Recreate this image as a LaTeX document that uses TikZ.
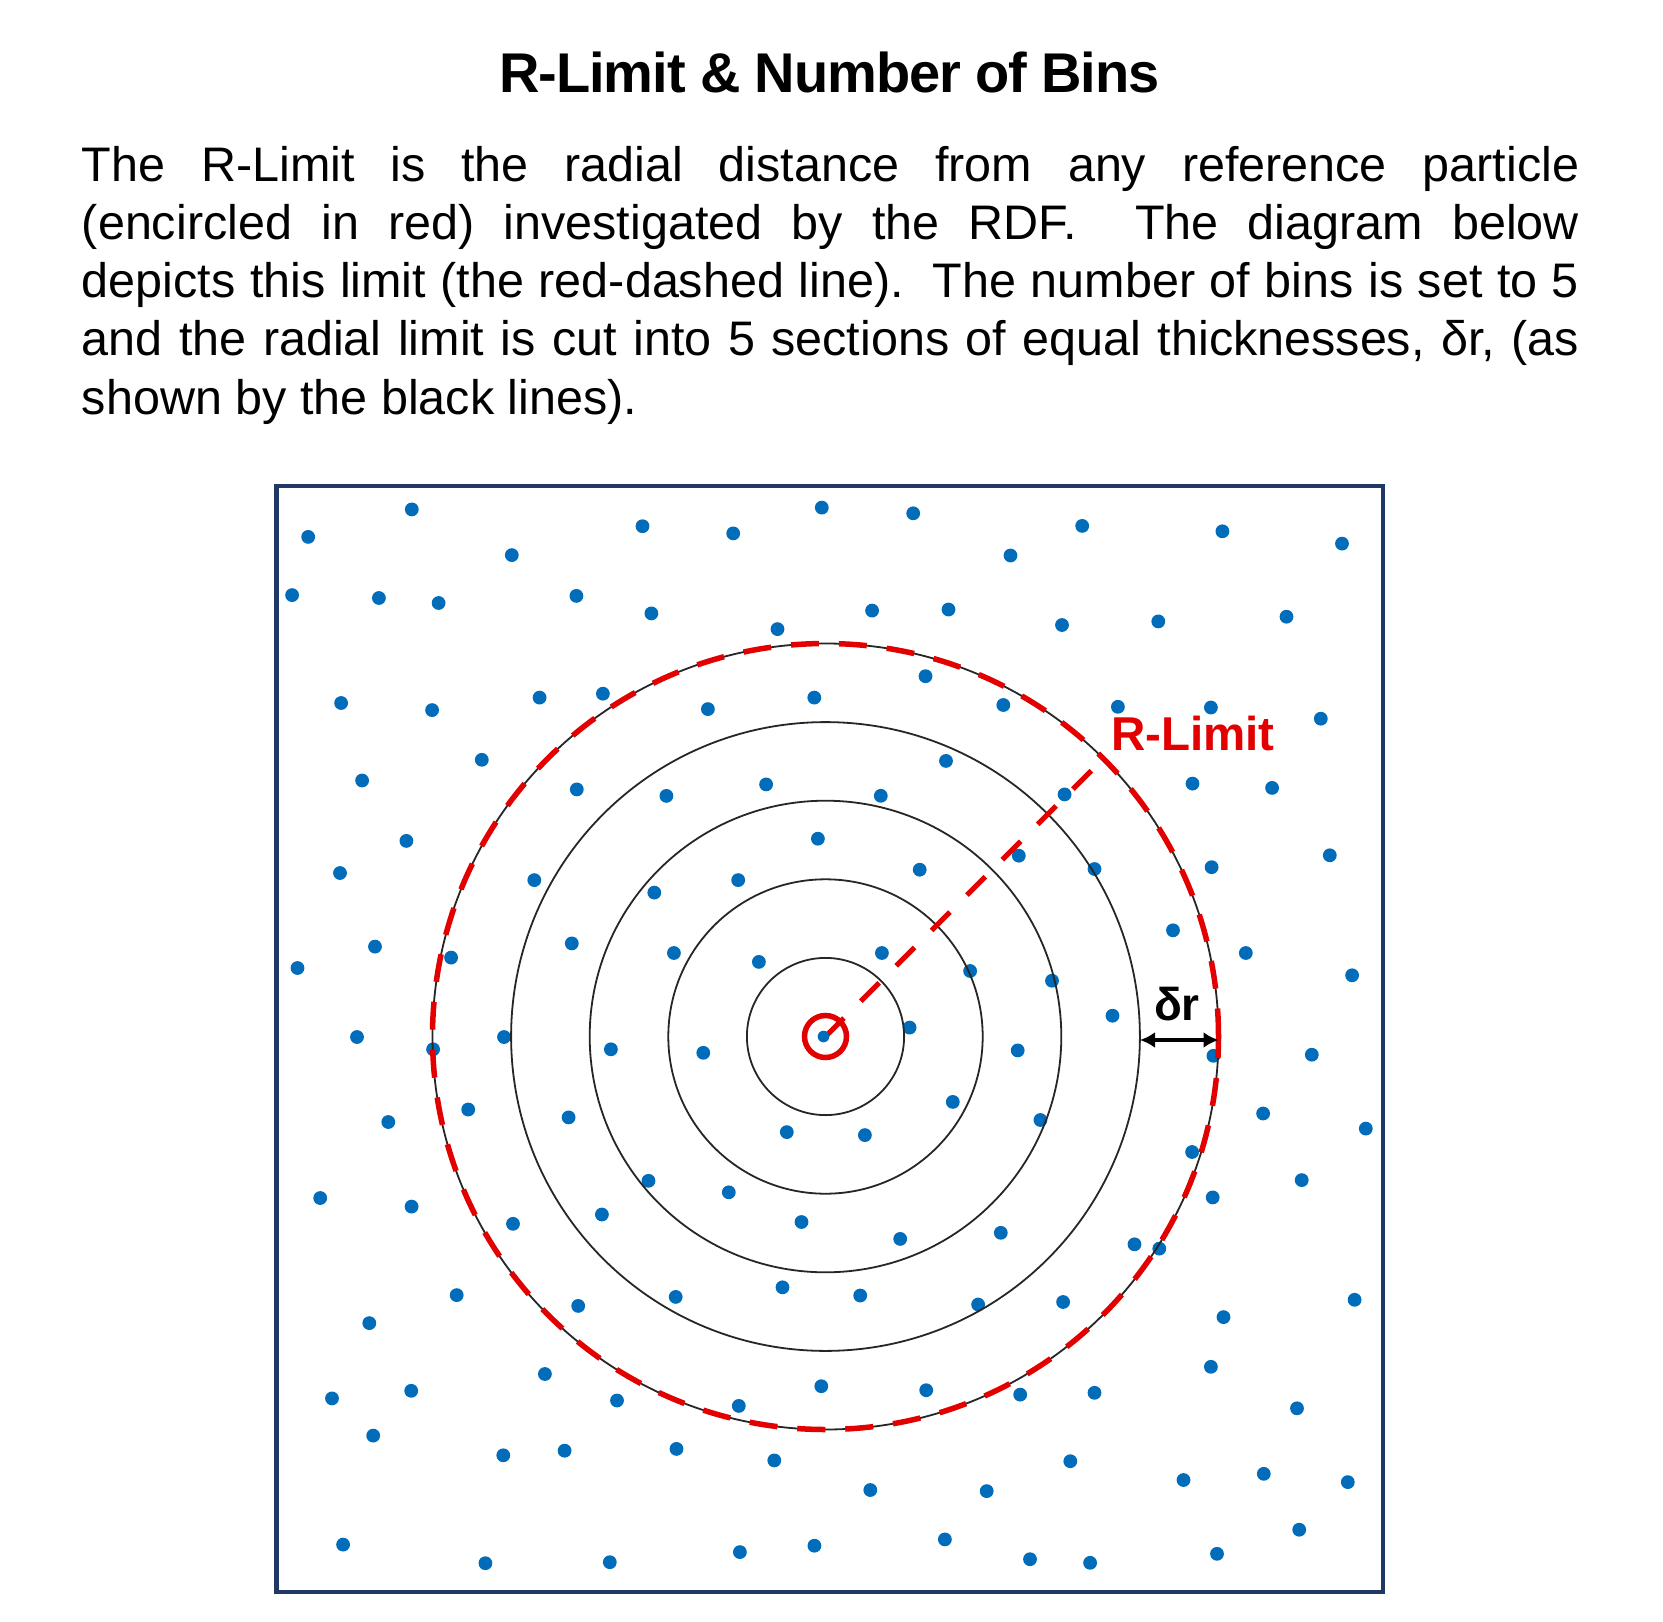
\documentclass[tikz,border=0pt]{standalone}
\usepackage{fontspec}
\setmainfont{Liberation Sans}
\newfontfamily\titlefont[LetterSpace=-2]{Liberation Sans}
\usetikzlibrary{arrows.meta}
\definecolor{dotblue}{RGB}{0,108,186}
\definecolor{boxblue}{RGB}{31,56,100}
\definecolor{rlred}{RGB}{226,0,0}
\begin{document}
\begin{tikzpicture}[x=1pt,y=-1pt,
  bodytext/.style={inner sep=0pt,anchor=base west,font=\fontsize{48.5}{58.3}\selectfont},
  particle/.style={fill=dotblue},
  binline/.style={draw=black!85,line width=1.8pt},
  limitline/.style={draw=rlred,line width=5.5pt,dash pattern=on 28pt off 20pt},
  radline/.style={draw=rlred,line width=5pt,dash pattern=on 26pt off 24pt}]
\useasboundingbox[fill=white] (0,0) rectangle (1663,1622);

% title and text
\node[inner sep=0pt,anchor=base,font=\titlefont\bfseries\fontsize{56}{60}\selectfont] (title) at (829.5,92.8) {R-Limit \& Number of Bins};
\frenchspacing
\node[bodytext] (l1) at (81.7,181) {\makebox[1497.3pt][s]{The R-Limit is the radial distance from any reference particle}};
\node[bodytext] (l2) at (81.7,239.3) {\makebox[1497.3pt][s]{(encircled in red) investigated by the RDF.\ \ The diagram below}};
\node[bodytext] (l3) at (81.7,297.6) {\makebox[1497.3pt][s]{depicts this limit (the red-dashed line).\ \ The number of bins is set to 5}};
\node[bodytext] (l4) at (81.7,355.9) {\makebox[1497.3pt][s]{and the radial limit is cut into 5 sections of equal thicknesses, δr, (as}};
\node[bodytext] (l5) at (81.7,414.2) {shown by the black lines).};

% frame
\draw[boxblue,line width=4.5pt] (276.5,486) rectangle (1383,1592);

% particles
\foreach \px/\py in {
411.8/509.4,308.2/536.9,511.8/555.1,642.5/526.2,733.2/533.4,821.8/507.6,292.1/595.1,378.9/598,438.6/603,576.4/595.9,651.4/613.4,777.5/629.1,341.1/703,432.1/710.1,539.6/697.6,602.9/693.7,707.9/709.1,814.3/697.6,481.8/759.8,362.1/780.5,576.8/789.4,666.4/795.9,766.1/784.4,406.4/840.9,340/873,534.3/880.1,654.3/892.6,738.2/880.1,817.9/838.7,375/946.6,451.1/957.6,297.5/968,571.8/943.4,673.9/953,758.9/961.9,357/1037,504/1037,
913.2/513.3,1082.2/525.9,1010.5/555.5,1222.4/531.3,1342/543.6,872.1/610.6,948.5/609.5,1062/625,1158.3/621.4,1286.5/616.7,925.5/676.2,1003.3/705,1117.9/706.8,1210.9/707.5,1320.8/718.7,946/760.9,880.8/795.8,1064.6/794.4,1192.5/783.6,1272.1/787.9,919.7/869.7,1018.8/855.7,1094.5/869,1211.6/867.2,1329.8/855.3,1173/930.3,1245.8/953,1352.1/975.3,881.9/953,970.1/971,1052/980.7,1112.5/1015.7,909.6/1027.6,
433.1/1049.3,610.9/1049.3,703.3/1052.8,468.2/1109.5,388.3/1122,568.6/1117.4,786.8/1132.1,320.2/1198,411.6/1206.6,648.5/1180.8,728.8/1192.3,513/1223.8,601.9/1214.5,801.5/1222,456.7/1295.1,369.3/1323.1,578.2/1305.9,675.7/1296.9,782.5/1287.3,544.9/1374,332/1398.4,411.2/1390.8,617/1400.5,738.8/1405.9,821.3/1386.2,373.2/1435.6,503.3/1455.3,564.6/1450.7,676.5/1448.9,774.3/1460.4,343.1/1544.6,485.4/1563.2,609.8/1562.2,739.9/1552.1,814.4/1545.7,
1017.7/1050.4,1213.4/1055.8,1311.8/1054.7,952.8/1101.9,864.9/1135.1,1040.4/1120,1263.1/1113.5,1365.8/1128.6,1192.1/1152,1301.7/1180.1,1212.7/1197.4,900.2/1238.9,1000.8/1232.8,1134.5/1244.3,1159.3/1248.6,860.2/1295.5,978.1/1304.5,1063.1/1302,1223.5/1317.1,1354.6/1299.8,1210.9/1366.8,926.2/1390.2,1020.2/1394.6,1094.5/1392.8,1297/1408.3,1070.3/1461.2,870.3/1490,986.7/1491.1,1183.5/1480,1263.8/1473.8,1347.8/1482.1,944.9/1539.4,1030/1559.2,1090.1/1562.8,1217/1553.8,1299.2/1529.7}
  \fill[particle] (\px,\py) circle[radius=6.9pt];

% bins
\coordinate (C) at (825.5,1036.5);
\foreach \r in {78.6,157.2,235.8,314.4,393}
  \draw[binline] (C) circle[radius=\r pt];
\draw[limitline] (C) circle[radius=393pt];

% radial R-Limit line
\coordinate (rend) at (1103.4,758.6);
\draw[radline] (C) -- (rend);
\draw[draw=rlred,line width=5.5pt] (C) circle[radius=21pt];
\fill[particle] (823.5,1036.5) circle[radius=5.8pt];

% delta r arrow
\coordinate (a1) at (1140,1040);
\coordinate (a2) at (1218.5,1040);
\draw[line width=4.5pt,{Latex[length=15pt,width=16pt]}-{Latex[length=15pt,width=16pt]}] (a1) -- (a2);
\node[inner sep=0pt,anchor=base,font=\bfseries\fontsize{46}{50}\selectfont] (dr) at (1177,1020) {δr};

% label
\node[inner sep=0pt,anchor=base west,text=rlred,font=\bfseries\fontsize{47.5}{50}\selectfont] (rl) at (1111,750.7) {R-Limit};
\end{tikzpicture}
\end{document}
